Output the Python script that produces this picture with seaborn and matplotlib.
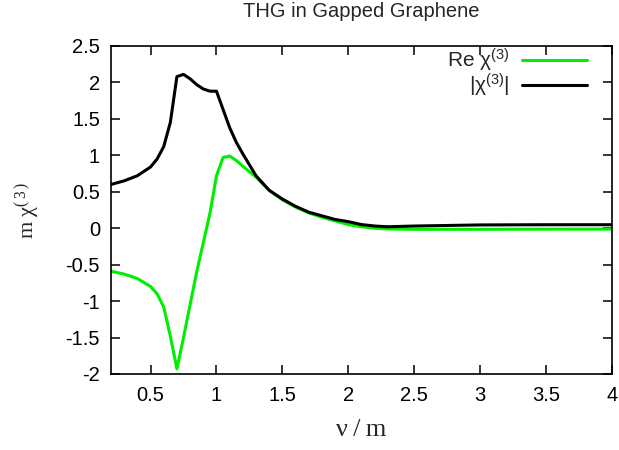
import matplotlib
matplotlib.use("Agg")
import matplotlib.pyplot as plt
import seaborn as sns
import pandas as pd
from matplotlib.ticker import MultipleLocator, FuncFormatter

# ---- data ----
nu = [0.2, 0.3, 0.4, 0.5, 0.55, 0.6, 0.65, 0.7, 0.75, 0.8, 0.85, 0.9, 0.95, 1.0,
      1.05, 1.1, 1.15, 1.2, 1.3, 1.4, 1.5, 1.6, 1.7, 1.8, 1.9, 2.0, 2.1, 2.2, 2.3,
      2.5, 3.0, 3.5, 4.0]
re_chi = [-0.59, -0.63, -0.69, -0.80, -0.90, -1.08, -1.48, -1.93, -1.50, -1.05,
          -0.60, -0.20, 0.20, 0.72, 0.97, 0.99, 0.93, 0.85, 0.70, 0.52, 0.39, 0.29,
          0.21, 0.15, 0.10, 0.05, 0.02, 0.0, -0.01, -0.015, -0.015, -0.013, -0.012]
abs_chi = [0.60, 0.65, 0.72, 0.84, 0.95, 1.12, 1.45, 2.08, 2.11, 2.05, 1.97, 1.91,
           1.88, 1.88, 1.63, 1.38, 1.18, 1.02, 0.72, 0.52, 0.40, 0.30, 0.22, 0.17,
           0.12, 0.09, 0.05, 0.03, 0.02, 0.03, 0.045, 0.048, 0.048]
series_labels = [r'Re $\mathregular{χ^{(3)}}$', r'$\mathregular{|χ^{(3)}|}$']
colors = ['#00ee00', '#000000']

df = pd.concat([
    pd.DataFrame({'nu': nu, 'val': re_chi, 'series': series_labels[0]}),
    pd.DataFrame({'nu': nu, 'val': abs_chi, 'series': series_labels[1]}),
])

sns.set_style('ticks')
plt.rcParams['font.family'] = ['Liberation Sans', 'DejaVu Sans']

fig = plt.figure(figsize=(6.19, 4.5), dpi=100)
ax = fig.add_axes([0.1793, 0.1689, 0.8094, 0.7289])

sns.lineplot(data=df, x='nu', y='val', hue='series', palette=colors,
             linewidth=2.2, ax=ax, sort=False, estimator=None)

ax.set_xlim(0.2, 4.0)
ax.set_ylim(-2.0, 2.5)
ax.xaxis.set_major_locator(MultipleLocator(0.5))
ax.yaxis.set_major_locator(MultipleLocator(0.5))
fmt = FuncFormatter(lambda v, p: '%g' % round(v, 3))
ax.xaxis.set_major_formatter(fmt)
ax.yaxis.set_major_formatter(fmt)
ax.tick_params(direction='in', top=True, right=True, length=6.5, width=1.1,
               labelsize=14.5, colors='black')
ax.tick_params(axis='x', pad=9)
ax.tick_params(axis='y', pad=8)
for s in ax.spines.values():
    s.set_visible(True)
    s.set_linewidth(1.2)
    s.set_color('black')

serif = ['Liberation Serif', 'DejaVu Serif']
ax.set_xlabel('ν\u2009/\u2009m', fontfamily=serif, fontsize=19, labelpad=10)
ax.set_ylabel(r'm $\mathregular{χ^{(\,3\,)}}$', fontfamily=serif,
              fontsize=16, labelpad=16)
ax.set_title('THG in Gapped Graphene', fontsize=14.5, pad=21)

handles, labels = ax.get_legend_handles_labels()
leg = ax.legend(handles, labels, loc='upper right', frameon=False,
                markerfirst=False, handlelength=3.1, fontsize=15,
                bbox_to_anchor=(1 - 25 / 501, 1 - 1 / 328),
                borderaxespad=0, borderpad=0, labelspacing=-0.12,
                handletextpad=0.6)
for h in leg.get_lines():
    h.set_linewidth(2.2)

fig.savefig('out.png', dpi=100)
